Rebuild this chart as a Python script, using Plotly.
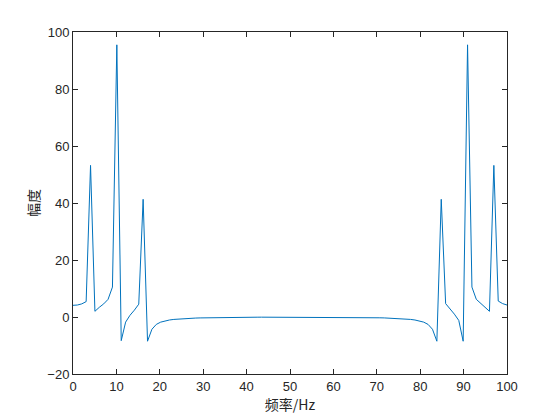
import numpy as np
import plotly.graph_objects as go

# Frequency axis: 100 samples spanning 0..100 Hz
freq = np.linspace(0, 100, 100)

# Amplitude values (k = 0..99)
amp_left = [
    4.1, 4.2, 4.6, 5.4, 53.2, 2.0, 3.4, 4.6, 6.2, 10.5,      # 0-9
    95.5, -8.3, -1.8, 0.6, 2.4, 4.5, 41.3, -8.5, -4.3, -2.6,  # 10-19
    -1.8, -1.35, -1.05, -0.85, -0.7, -0.6, -0.5, -0.43, -0.37, -0.32,  # 20-29
    -0.28, -0.25, -0.22, -0.19, -0.17, -0.15, -0.13, -0.11, -0.1, -0.09,  # 30-39
    -0.08, -0.07, -0.07, -0.06, -0.06, -0.06, -0.05, -0.05, -0.05, -0.05,  # 40-49
]
amp_mid = [-0.05]  # k = 50
amp_right = [
    -0.05, -0.05, -0.05, -0.05, -0.06, -0.06, -0.06, -0.07, -0.07,  # 51-59
    -0.08, -0.09, -0.1, -0.11, -0.13, -0.15, -0.17, -0.19, -0.22, -0.25,
    -0.28, -0.32, -0.37, -0.43, -0.5, -0.6, -0.7, -0.85, -1.05, -1.35,
    -1.8, -2.6, -4.3, -8.5, 41.3, 4.7, 3.0, 1.0, -1.2, -8.5,
    95.5, 10.5, 6.2, 4.7, 3.5, 2.0, 53.2, 5.6, 4.7,
]
amplitude = amp_left + amp_mid + amp_right + [4.2]

x_ticks = list(range(0, 101, 10))
y_ticks = list(range(-20, 101, 20))
x_label = "频率/Hz"
y_label = "幅度"

axis_color = "#262626"
font_main = "Liberation Sans, Arial, sans-serif"
font_cjk = "Noto Sans CJK SC, sans-serif"

fig = go.Figure()
fig.add_trace(go.Scatter(
    x=freq, y=amplitude, mode="lines",
    line=dict(color="#0072BD", width=1),
    hoverinfo="skip", showlegend=False,
))

common = dict(
    showline=True, linecolor=axis_color, linewidth=1,
    mirror="ticks", ticks="inside", ticklen=5, tickcolor=axis_color,
    showgrid=False, zeroline=False, automargin=False,
    tickfont=dict(family=font_main, size=13, color=axis_color),
)

# The page body has an 8px margin, so the figure is sized and padded to compensate
fig.update_layout(
    width=552, height=412,
    margin=dict(l=65, r=53, t=23.5, b=46.2),
    paper_bgcolor="white", plot_bgcolor="white",
    xaxis=dict(range=[0, 100], tickvals=x_ticks,
               title=dict(text=x_label, standoff=4,
                          font=dict(family=font_cjk, size=14, color=axis_color)),
               **common),
    yaxis=dict(range=[-20, 100], tickvals=y_ticks,
               title=dict(text=y_label, standoff=4,
                          font=dict(family=font_cjk, size=14, color=axis_color)),
               **common),
)

fig.write_html("out.html")
